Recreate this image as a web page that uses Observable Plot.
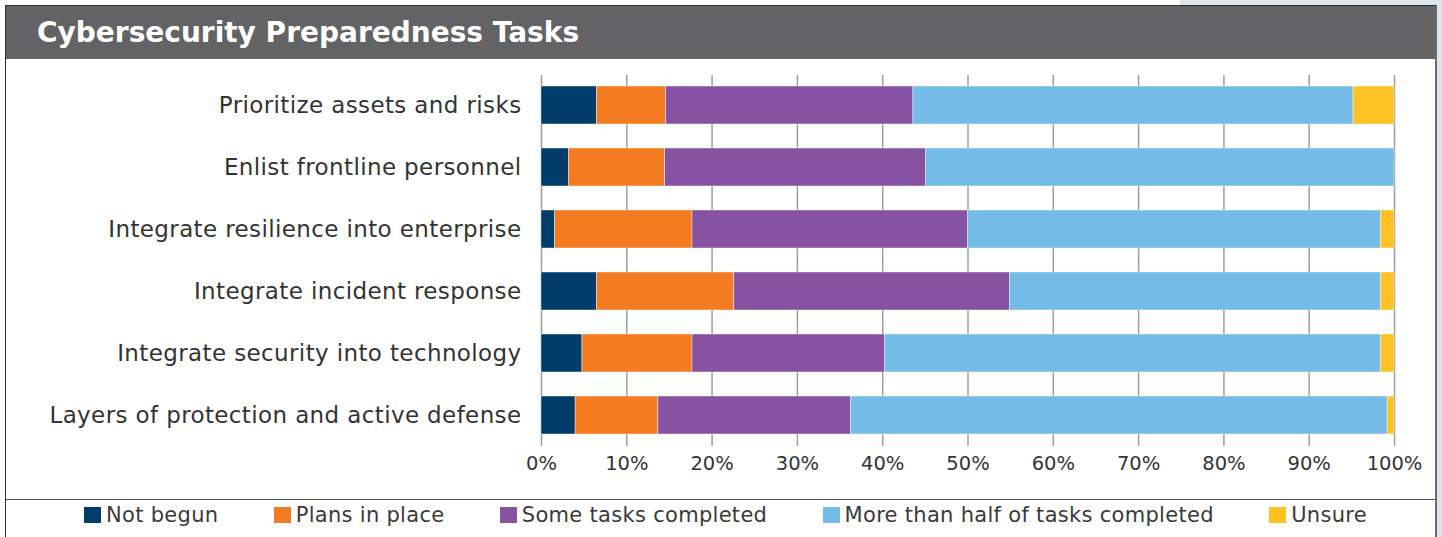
<!DOCTYPE html>
<html>
<head>
<meta charset="utf-8">
<script src="https://cdn.jsdelivr.net/npm/d3@7"></script>
<script src="https://cdn.jsdelivr.net/npm/@observablehq/plot@0.6"></script>
<style>
  html, body { margin: 0; padding: 0; }
  body { width: 1442px; height: 537px; overflow: hidden; position: relative; background: #ffffff; font-family: "DejaVu Sans", sans-serif; }
  #bgpanel { position: absolute; left: 1180px; top: 0; width: 262px; height: 537px; background: #dce4ec; }
  #frame { position: absolute; left: 5px; top: 5px; width: 1432px; height: 600px; box-sizing: border-box;
           background: #ffffff; border-left: 1px solid #2e2e2e; border-top: 1px solid #2e2e2e; border-right: 2px solid #6b6b6b; }
  #title { height: 53px; background: #636365; color: #ffffff; font-family: "DejaVu Sans", sans-serif; font-weight: bold;
           font-size: 28px; line-height: 52px; padding-left: 31px; padding-top: 1px; box-sizing: border-box; white-space: nowrap; }
  #chart { position: absolute; left: 7px; top: 58px; width: 1428px; height: 440px; }
  #sep { position: absolute; left: 6px; top: 499px; width: 1429px; height: 0; border-top: 1.5px solid #555555; }
  #legend { position: absolute; left: 84px; top: 503px; width: 1283px; display: flex; justify-content: space-between;
            align-items: center; font-family: "DejaVu Sans", sans-serif; font-size: 21px; line-height: 24px; color: #3a3a3a;
            letter-spacing: 0.3px; white-space: nowrap; }
  .item { display: flex; align-items: center; }
  .sw { display: inline-block; width: 17px; height: 16px; margin-right: 5px; }
  g[aria-label="y-axis tick label"] text { letter-spacing: 0.38px; }
</style>
</head>
<body>
<div id="bgpanel"></div>
<div id="frame"><div id="title">Cybersecurity Preparedness Tasks</div></div>
<div id="chart"></div>
<div id="sep"></div>
<div id="legend"></div>
<script>
// ---- Data ----
const categories = [
  "Prioritize assets and risks",
  "Enlist frontline personnel",
  "Integrate resilience into enterprise",
  "Integrate incident response",
  "Integrate security into technology",
  "Layers of protection and active defense"
];
const series = ["Not begun", "Plans in place", "Some tasks completed", "More than half of tasks completed", "Unsure"];
const colors = ["#003d6b", "#f47b20", "#8752a1", "#74bce7", "#fdc223"];
const notBegun     = [6.5, 3.2, 1.6, 6.5, 4.8, 4.0];
const plansInPlace = [8.1, 11.3, 16.1, 16.1, 12.9, 9.7];
const someTasks    = [29.0, 30.6, 32.3, 32.3, 22.6, 22.6];
const moreThanHalf = [51.6, 54.9, 48.4, 43.5, 58.1, 62.9];
const unsure       = [4.8, 0, 1.6, 1.6, 1.6, 0.8];
const xTicks = [0, 10, 20, 30, 40, 50, 60, 70, 80, 90, 100];

const seriesValues = [notBegun, plansInPlace, someTasks, moreThanHalf, unsure];
const data = [];
categories.forEach((c, i) => {
  series.forEach((s, j) => {
    data.push({category: c, series: s, value: seriesValues[j][i]});
  });
});

const chart = Plot.plot({
  width: 1428,
  height: 440,
  marginLeft: 534,
  marginRight: 41,
  marginTop: 17,
  marginBottom: 52,
  style: {fontFamily: "DejaVu Sans, sans-serif", color: "#333333", background: "transparent", overflow: "visible"},
  x: {domain: [0, 100], label: null},
  y: {domain: categories, paddingInner: 0.387, paddingOuter: 0.15, label: null},
  color: {domain: series, range: colors},
  marks: [
    Plot.ruleX(xTicks, {x: d => d, stroke: "#9e9e9e", strokeWidth: 1.5}),
    Plot.barX(data, {x: "value", y: "category", fill: "series", order: series, stroke: "#ffffff", strokeWidth: 0.6, strokeOpacity: 0.7}),
    Plot.axisY({tickSize: 0, tickPadding: 20, fontSize: 23, label: null}),
    Plot.axisX({ticks: xTicks, tickFormat: d => d + "%", tickSize: 0, tickPadding: 10, fontSize: 19.5, label: null})
  ]
});
document.getElementById("chart").appendChild(chart);

// ---- Legend ----
const legend = document.getElementById("legend");
series.forEach((s, j) => {
  const item = document.createElement("div");
  item.className = "item";
  const sw = document.createElement("span");
  sw.className = "sw";
  sw.style.background = colors[j];
  const t = document.createElement("span");
  t.textContent = s;
  item.appendChild(sw);
  item.appendChild(t);
  legend.appendChild(item);
});
</script>
</body>
</html>
